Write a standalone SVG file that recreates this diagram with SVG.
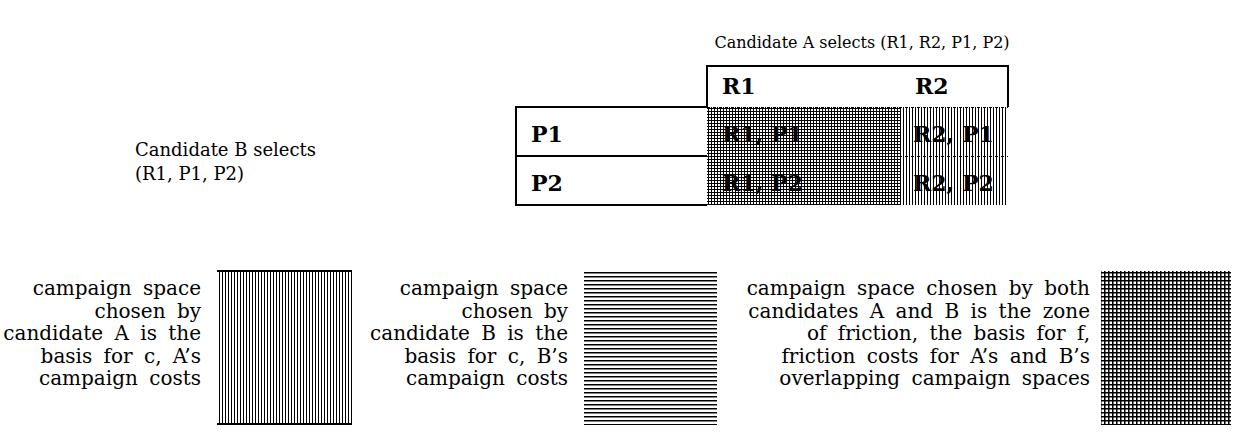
<svg xmlns="http://www.w3.org/2000/svg" width="1233" height="434" viewBox="0 0 1233 434">
  <style>
    text { font-family: "DejaVu Serif", "Liberation Serif", serif; font-size: 18px; fill: #000; }
    .title { font-size: 16px; }
    .b { font-weight: bold; font-size: 22px; }
    .leg { font-size: 20px; word-spacing: 5px; text-anchor: end; }
    .edge { fill: none; stroke: #000; stroke-width: 2; }
    .dots { stroke: #000; stroke-width: 1; stroke-dasharray: 1 1; }
  </style>
  <defs>
    <pattern id="vert" width="3" height="3" patternUnits="userSpaceOnUse">
      <rect x="0" y="0" width="1" height="3" fill="#000"/>
    </pattern>
    <pattern id="horiz" width="4" height="4" patternUnits="userSpaceOnUse">
      <rect x="0" y="0" width="4" height="1.5" fill="#000"/>
    </pattern>
    <pattern id="cross" width="4" height="4" patternUnits="userSpaceOnUse">
      <rect x="0" y="0" width="1.5" height="4" fill="#000"/>
      <rect x="0" y="0" width="4" height="1.5" fill="#000"/>
    </pattern>
    <pattern id="crossFine" width="3" height="3" patternUnits="userSpaceOnUse">
      <rect x="0" y="0" width="1" height="3" fill="#000"/>
      <rect x="0" y="0" width="3" height="1" fill="#000"/>
    </pattern>
  </defs>

  <!-- headings -->
  <text id="titleA" class="title" x="862" y="48" text-anchor="middle">Candidate A selects (R1, R2, P1, P2)</text>
  <g id="titleB">
    <text x="135" y="156">Candidate B selects</text>
    <text x="135" y="180">(R1, P1, P2)</text>
  </g>

  <!-- payoff table -->
  <g id="table">
    <rect x="707" y="107" width="194" height="98" fill="url(#crossFine)"/>
    <rect x="901" y="107" width="107" height="98" fill="url(#vert)"/>
    <path class="edge" d="M707,107 V66 H1008 V107"/>
    <path class="edge" d="M707,107 H516 V205 H707 M516,156 H707"/>
    <line class="dots" x1="707" y1="107.5" x2="1008" y2="107.5"/>
    <line class="dots" x1="707" y1="156.5" x2="1008" y2="156.5"/>
    <text class="b" x="722" y="94">R1</text>
    <text class="b" x="915" y="94">R2</text>
    <text class="b" x="531" y="142">P1</text>
    <text class="b" x="531" y="191">P2</text>
    <text class="b" x="722" y="142">R1, P1</text>
    <text class="b" x="913" y="142">R2, P1</text>
    <text class="b" x="722" y="191">R1, P2</text>
    <text class="b" x="913" y="191">R2, P2</text>
  </g>

  <!-- legend: candidate A -->
  <g id="legendA">
    <text class="leg" x="201" y="295">campaign space</text>
    <text class="leg" x="201" y="317.5">chosen by</text>
    <text class="leg" x="201" y="340">candidate A is the</text>
    <text class="leg" x="201" y="362.5">basis for c, A’s</text>
    <text class="leg" x="201" y="385">campaign costs</text>
    <rect x="217" y="271" width="135" height="153" fill="url(#vert)"/>
    <line x1="217" y1="271" x2="352" y2="271" stroke="#000" stroke-width="2"/>
    <line x1="217" y1="424" x2="352" y2="424" stroke="#000" stroke-width="2"/>
  </g>

  <!-- legend: candidate B -->
  <g id="legendB">
    <text class="leg" x="568" y="295">campaign space</text>
    <text class="leg" x="568" y="317.5">chosen by</text>
    <text class="leg" x="568" y="340">candidate B is the</text>
    <text class="leg" x="568" y="362.5">basis for c, B’s</text>
    <text class="leg" x="568" y="385">campaign costs</text>
    <rect x="584" y="272" width="133" height="153" fill="url(#horiz)"/>
  </g>

  <!-- legend: overlap -->
  <g id="legendAB">
    <text class="leg" x="1090" y="295">campaign space chosen by both</text>
    <text class="leg" x="1090" y="317.5">candidates A and B is the zone</text>
    <text class="leg" x="1090" y="340">of friction, the basis for f,</text>
    <text class="leg" x="1090" y="362.5">friction costs for A’s and B’s</text>
    <text class="leg" x="1090" y="385">overlapping campaign spaces</text>
    <rect x="1101" y="271" width="130" height="154" fill="url(#cross)"/>
  </g>
</svg>
